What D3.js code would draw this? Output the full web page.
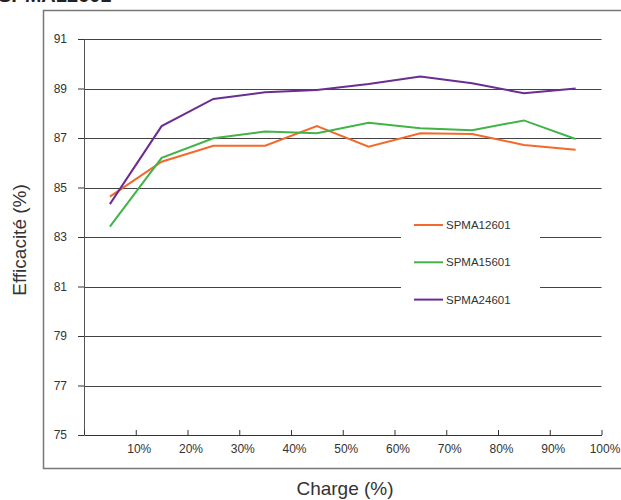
<!DOCTYPE html>
<html>
<head>
<meta charset="utf-8">
<script src="https://cdn.jsdelivr.net/npm/d3@7"></script>
<style>
  body { margin: 0; background: #fff; }
  text { font-family: "Liberation Sans", Arial, sans-serif; fill: #333; }
</style>
</head>
<body>
<script>
// charge (%) des points mesurés
const charges = [5, 15, 25, 35, 45, 55, 65, 75, 85, 95];
const series = ["SPMA12601", "SPMA15601", "SPMA24601"];
const spma12601 = [84.63, 86.04, 86.69, 86.69, 87.48, 86.65, 87.19, 87.16, 86.72, 86.53];
const spma15601 = [83.42, 86.20, 86.99, 87.26, 87.19, 87.62, 87.39, 87.31, 87.71, 86.96];
const spma24601 = [84.33, 87.48, 88.58, 88.85, 88.94, 89.18, 89.48, 89.21, 88.81, 89.00];
const couleurs = ["#f5682b", "#41b348", "#6b2d90"];
const yTicks = [75, 77, 79, 81, 83, 85, 87, 89, 91];
const xTicks = [0, 10, 20, 30, 40, 50, 60, 70, 80, 90, 100];

const donnees = [spma12601, spma15601, spma24601];

const svg = d3.select('body').append('svg')
  .attr('width', 621).attr('height', 500);

// titre coupé en haut (comme sur l'original)
svg.append('text')
  .attr('x', -2).attr('y', 2)
  .style('font-size', '20px').style('font-weight', 'bold')
  .style('fill', '#222')
  .text('SPMA12601');

// cadre de la zone du graphique
svg.append('rect')
  .attr('x', 43.5).attr('y', 10.5)
  .attr('width', 640).attr('height', 458)
  .attr('fill', 'none').attr('stroke', '#777').attr('stroke-width', 1.5);

const x = d3.scaleLinear().domain([0, 100]).range([84, 601.5]);
const y = d3.scaleLinear().domain([75, 91]).range([435, 39]);

// grille
svg.append('g').selectAll('line')
  .data(yTicks.slice(1))
  .enter().append('line')
  .attr('x1', x(0)).attr('x2', x(100))
  .attr('y1', d => Math.round(y(d)) + 0.5).attr('y2', d => Math.round(y(d)) + 0.5)
  .attr('stroke', '#444').attr('stroke-width', 1);

// axe y
const axeY = svg.append('g')
  .attr('transform', `translate(${x(0)},0)`)
  .call(d3.axisLeft(y).tickValues(yTicks).tickSize(6).tickSizeOuter(0).tickFormat(d3.format('d')));
axeY.select('.domain').attr('stroke', '#555');
axeY.selectAll('.tick line').attr('stroke', '#333');
axeY.selectAll('.tick text').attr('x', -17).style('font-size', '12px')
  .style('font-family', '"Liberation Sans", Arial, sans-serif').attr('fill', '#333');

// axe x
const axeX = svg.append('g')
  .attr('transform', `translate(0,${y(75)})`)
  .call(d3.axisBottom(x).tickValues(xTicks).tickSize(-5).tickSizeOuter(0)
    .tickFormat(d => d === 0 ? '' : d + '%'));
axeX.select('.domain').attr('stroke', '#333');
axeX.selectAll('.tick line').attr('stroke', '#333');
axeX.selectAll('.tick text').attr('y', 9).attr('dx', 3).style('font-size', '12px')
  .style('font-family', '"Liberation Sans", Arial, sans-serif').attr('fill', '#333');

// courbes
const ligne = d3.line()
  .x((d, i) => x(charges[i]))
  .y(d => y(d));

svg.append('g').selectAll('path')
  .data(donnees)
  .enter().append('path')
  .attr('d', ligne)
  .attr('fill', 'none')
  .attr('stroke', (d, i) => couleurs[i])
  .attr('stroke-width', 2);

// légende
svg.append('rect')
  .attr('x', 401).attr('y', 212).attr('width', 139).attr('height', 100)
  .attr('fill', '#fff');
const leg = svg.append('g').selectAll('g')
  .data(series)
  .enter().append('g')
  .attr('transform', (d, i) => `translate(414,${225 + i * 37.3})`);
leg.append('line')
  .attr('x1', 0).attr('x2', 29)
  .attr('stroke', (d, i) => couleurs[i]).attr('stroke-width', 2);
leg.append('text')
  .attr('x', 32).attr('y', 4)
  .style('font-size', '11.5px')
  .text(d => d);

// titres des axes
svg.append('text')
  .attr('transform', 'translate(26,240) rotate(-90)')
  .attr('text-anchor', 'middle')
  .style('font-size', '19px')
  .text('Efficacité (%)');
svg.append('text')
  .attr('x', 345).attr('y', 495)
  .attr('text-anchor', 'middle')
  .style('font-size', '19px')
  .text('Charge (%)');
</script>
</body>
</html>
